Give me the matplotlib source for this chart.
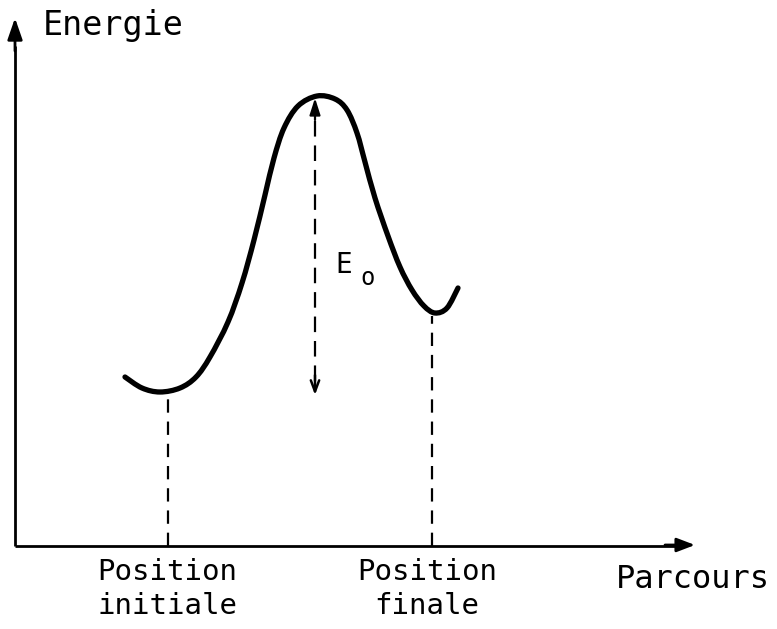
import matplotlib
matplotlib.use("Agg")
import matplotlib.pyplot as plt
from matplotlib.path import Path
from matplotlib.patches import PathPatch

# Energy curve along the reaction path (x: parcours, y: energie)
parcours = [110, 127, 145, 165, 181, 195, 213, 227, 239, 250, 259, 269, 283,
            302, 320, 332, 342, 350, 360, 373, 385, 397, 409, 420, 432, 443]
energie = [169, 158, 154, 158, 169, 189, 224, 263, 306, 351, 388, 418, 440,
           450, 447, 436, 413, 384, 348, 310, 279, 256, 240, 233, 238, 258]

pos_initiale = (153, 154)   # (x, energy at minimum)
pos_finale = (417, 233)
barrier_x = 300
barrier_top = 448
barrier_bottom = 151

labels_x = ["Position\ninitiale", "Position\nfinale"]
label_x_pos = [152, 412]

fig = plt.figure(figsize=(7.77, 6.29), dpi=100)
ax = fig.add_axes([0, 0, 1, 1])
ax.set_xlim(-15, 762)
ax.set_ylim(-83, 546)
ax.axis("off")

ink = "black"
mono = dict(family="DejaVu Sans Mono", color=ink)

# axes with arrows
ax.plot([0, 0], [0, 500], color=ink, lw=2.0, solid_capstyle="butt")
ax.annotate("", xy=(0, 528), xytext=(0, 495),
            arrowprops=dict(arrowstyle="-|>,head_length=1.3,head_width=0.45",
                            color=ink, lw=2.0, shrinkA=0, shrinkB=0))
ax.plot([0, 660], [0, 0], color=ink, lw=2.0, solid_capstyle="butt")
ax.annotate("", xy=(680, 1), xytext=(650, 1),
            arrowprops=dict(arrowstyle="-|>,head_length=1.1,head_width=0.42",
                            color=ink, lw=2.0, shrinkA=0, shrinkB=0))

# smooth curve through the points (Catmull-Rom drawn as cubic Bezier segments)
pts = list(zip(parcours, energie))
verts = [pts[0]]
codes = [Path.MOVETO]
for i in range(len(pts) - 1):
    p0 = pts[i - 1] if i > 0 else pts[i]
    p1 = pts[i]
    p2 = pts[i + 1]
    p3 = pts[i + 2] if i + 2 < len(pts) else pts[i + 1]
    c1 = (p1[0] + (p2[0] - p0[0]) / 6, p1[1] + (p2[1] - p0[1]) / 6)
    c2 = (p2[0] - (p3[0] - p1[0]) / 6, p2[1] - (p3[1] - p1[1]) / 6)
    verts += [c1, c2, p2]
    codes += [Path.CURVE4] * 3
ax.add_patch(PathPatch(Path(verts, codes), facecolor="none", edgecolor=ink,
                       lw=3.8, capstyle="round", joinstyle="round"))

# dashed projections
for (px, py) in (pos_initiale, pos_finale):
    ax.plot([px, px], [0, py - 3], color=ink, lw=1.6, ls=(0, (6, 4)))

# barrier arrow
ax.plot([barrier_x, barrier_x], [barrier_bottom + 14, barrier_top - 18],
        color=ink, lw=1.6, ls=(0, (7, 4)))
ax.annotate("", xy=(barrier_x, barrier_top), xytext=(barrier_x, barrier_top - 22),
            arrowprops=dict(arrowstyle="-|>,head_length=1.0,head_width=0.32",
                            color=ink, lw=1.6, shrinkA=0, shrinkB=0))
ax.annotate("", xy=(barrier_x, barrier_bottom), xytext=(barrier_x, barrier_bottom + 20),
            arrowprops=dict(arrowstyle="->,head_length=0.8,head_width=0.3",
                            color=ink, lw=1.8, shrinkA=0, shrinkB=0))

# texts
ax.text(28, 521, "Energie", fontsize=24, ha="left", va="center", **mono)
ax.text(320, 281, "E", fontsize=20, ha="left", va="center", **mono)
ax.text(345, 268, "o", fontsize=17, ha="left", va="center", **mono)
for lbl, xp in zip(labels_x, label_x_pos):
    ax.text(xp, -43, lbl, fontsize=21, ha="center", va="center",
            linespacing=1.3, **mono)
ax.text(678, -34, "Parcours", fontsize=23, ha="center", va="center", **mono)

fig.savefig("out.png", dpi=100)
